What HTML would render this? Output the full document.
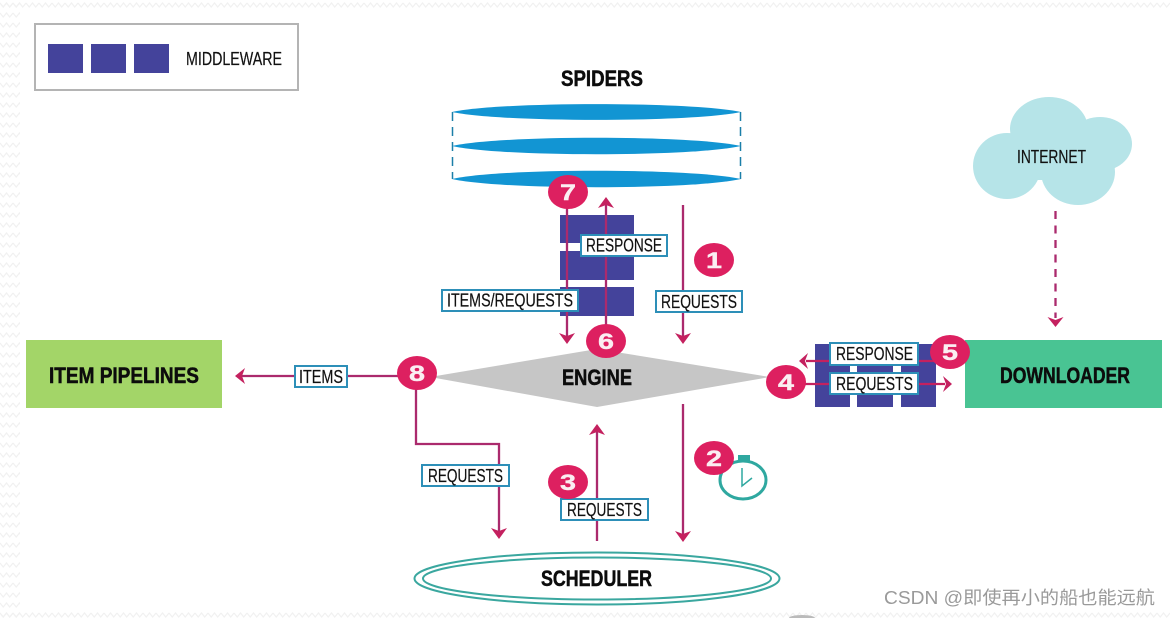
<!DOCTYPE html>
<html><head><meta charset="utf-8"><style>
html,body{margin:0;padding:0;background:#fff;width:1170px;height:618px;overflow:hidden}
svg{display:block}
text{font-family:"Liberation Sans","Noto Sans CJK SC",sans-serif}
.h{font-weight:bold;fill:#0c0c0c;stroke:#0c0c0c;stroke-width:.5}
.t{fill:#111;stroke:#111;stroke-width:.2;font-size:18px}
.n{font-weight:bold;fill:#fbeef2;stroke:#fbeef2;stroke-width:.4;font-size:22px;text-anchor:middle}
.l{fill:none;stroke:#ab2a6d;stroke-width:2.300}
.a{fill:#c4215f}
.b{fill:#fff;stroke:#2d8fb8;stroke-width:2}
.c{fill:#dd2060}
</style></head><body>
<svg width="1170" height="618" viewBox="0 0 1170 618" xmlns="http://www.w3.org/2000/svg">
<defs>
<pattern id="z" width="13" height="10" patternUnits="userSpaceOnUse"><path d="M0 3 L3.2 7 L6.5 3 L9.7 7 L13 3" fill="none" stroke="#f1f1f1" stroke-width="1.2"/></pattern>
</defs>
<rect width="1170" height="618" fill="#fff"/>
<rect x="0" y="0" width="1170" height="12" fill="url(#z)"/>
<rect x="0" y="0" width="20" height="618" fill="url(#z)"/>
<rect x="0" y="611" width="1170" height="7" fill="url(#z)"/>
<ellipse cx="802" cy="618" rx="13" ry="3" fill="#bbb"/>

<!-- legend -->
<rect x="35" y="24" width="263" height="66" fill="#fff" stroke="#b4b4b4" stroke-width="2"/>
<rect x="48" y="44" width="35" height="29" fill="#44439b"/>
<rect x="91" y="44" width="35" height="29" fill="#44439b"/>
<rect x="134" y="44" width="35" height="29" fill="#44439b"/>
<text class="t" x="186" y="65" textLength="96" lengthAdjust="spacingAndGlyphs">MIDDLEWARE</text>

<!-- spiders -->
<text class="h" x="561" y="86" font-size="22" textLength="82" lengthAdjust="spacingAndGlyphs">SPIDERS</text>
<path d="M452.500 112V179M740.500 112V179" stroke="#1b7fa8" stroke-width="1.500" stroke-dasharray="9 6" fill="none"/>
<path d="M452 112C500 101.500 692 101.500 741 112C692 122.500 500 122.500 452 112Z" fill="#1295d3"/>
<path d="M452 146C500 135 692 135 741 146C692 157 500 157 452 146Z" fill="#1295d3"/>
<path d="M452 179C500 168 692 168 741 179C692 190 500 190 452 179Z" fill="#1295d3"/>

<!-- spider middleware -->
<rect x="560" y="215" width="74" height="28" fill="#44439b"/>
<rect x="560" y="251" width="74" height="29" fill="#44439b"/>
<rect x="560" y="287" width="74" height="29" fill="#44439b"/>

<!-- engine -->
<polygon points="430,377 597,349 770,377 597,407" fill="#c6c6c6"/>
<text class="h" x="562" y="385" font-size="22" textLength="70" lengthAdjust="spacingAndGlyphs">ENGINE</text>

<!-- arrows upper -->
<path class="l" d="M567 192V338"/>
<path class="a" d="M559 333L567 336L575 333L567 344Z"/>
<path class="l" d="M606 341V205"/>
<path class="a" d="M598 208L606 205L614 208L606 197Z"/>
<path class="l" d="M683 205V338"/>
<path class="a" d="M675 333L683 336L691 333L683 344Z"/>

<rect class="b" x="581" y="235" width="86" height="21"/>
<text class="t" x="586" y="251.500" textLength="76" lengthAdjust="spacingAndGlyphs">RESPONSE</text>
<rect class="b" x="442" y="290" width="136" height="21"/>
<text class="t" x="447" y="306.500" textLength="126" lengthAdjust="spacingAndGlyphs">ITEMS/REQUESTS</text>
<rect class="b" x="656" y="291" width="86" height="21"/>
<text class="t" x="661" y="308" textLength="76" lengthAdjust="spacingAndGlyphs">REQUESTS</text>

<!-- item pipelines -->
<rect x="26" y="340" width="196" height="68" fill="#a3d568"/>
<text class="h" x="49" y="383" font-size="22" textLength="150" lengthAdjust="spacingAndGlyphs">ITEM PIPELINES</text>
<path class="l" d="M417 376H242"/>
<path class="a" d="M245 368L242 376L245 384L235 376Z"/>
<rect class="b" x="295" y="366" width="52" height="21"/>
<text class="t" x="299" y="383" textLength="44" lengthAdjust="spacingAndGlyphs">ITEMS</text>

<!-- lower arrows -->
<path class="l" d="M416 373V444H499V532"/>
<path class="a" d="M491 528L499 531L507 528L499 539Z"/>
<rect class="b" x="422" y="465" width="87" height="21"/>
<text class="t" x="428" y="482" textLength="75" lengthAdjust="spacingAndGlyphs">REQUESTS</text>
<path class="l" d="M597 541V432"/>
<path class="a" d="M589 435L597 432L605 435L597 424Z"/>
<rect class="b" x="561" y="499" width="87" height="21"/>
<text class="t" x="567" y="516" textLength="75" lengthAdjust="spacingAndGlyphs">REQUESTS</text>
<path class="l" d="M683 404V535"/>
<path class="a" d="M675 531L683 534L691 531L683 542Z"/>

<!-- timer -->
<rect x="738" y="455" width="12" height="6" fill="#2fa8a0"/>
<ellipse cx="743" cy="480" rx="23" ry="19" fill="#fff" stroke="#2fa8a0" stroke-width="3"/>
<path d="M742 468V486L752 478" fill="none" stroke="#2fa8a0" stroke-width="1.500"/>

<!-- scheduler -->
<ellipse cx="597" cy="578.500" rx="182.500" ry="26" fill="#fff" stroke="#3aa79f" stroke-width="2"/>
<ellipse cx="597" cy="578.500" rx="174" ry="21" fill="#fff" stroke="#3aa79f" stroke-width="2"/>
<text class="h" x="541" y="586" font-size="22" textLength="111" lengthAdjust="spacingAndGlyphs">SCHEDULER</text>

<!-- cloud -->
<g fill="#b6e4e8">
<ellipse cx="1007" cy="166" rx="34" ry="33"/>
<ellipse cx="1049" cy="129" rx="39" ry="32"/>
<ellipse cx="1100" cy="144" rx="32" ry="27"/>
<ellipse cx="1078" cy="172" rx="37" ry="33"/>
<rect x="1015" y="130" width="80" height="50"/>
</g>
<text class="t" x="1017" y="163" textLength="69" lengthAdjust="spacingAndGlyphs">INTERNET</text>
<path d="M1055.500 211V318" stroke="#ab2a6d" stroke-width="2.300" stroke-dasharray="8 6.500" fill="none"/>
<path class="a" d="M1047.500 317L1055.500 320L1063.500 317L1055.500 327Z"/>

<!-- downloader -->
<rect x="965" y="340" width="197" height="68" fill="#49c493"/>
<text class="h" x="1000" y="383" font-size="22" textLength="130" lengthAdjust="spacingAndGlyphs">DOWNLOADER</text>

<!-- downloader middleware -->
<rect x="815" y="344" width="121" height="63" fill="#44439b"/>
<rect x="850" y="365" width="7" height="7" fill="#fff"/>
<rect x="893" y="365" width="8" height="7" fill="#fff"/>
<rect x="850" y="395" width="7" height="12" fill="#fff"/>
<rect x="893" y="395" width="8" height="12" fill="#fff"/>
<path class="l" d="M950 361H806" style="stroke:#c4215f"/>
<path class="a" d="M808 353L805 361L808 369L799 361Z"/>
<path class="l" d="M786 384H945" style="stroke:#c4215f"/>
<path class="a" d="M943 376L946 384L943 392L952 384Z"/>
<rect class="b" x="830" y="343" width="88" height="22"/>
<text class="t" x="836" y="360" textLength="77" lengthAdjust="spacingAndGlyphs">RESPONSE</text>
<rect class="b" x="830" y="373" width="88" height="21"/>
<text class="t" x="836" y="390" textLength="77" lengthAdjust="spacingAndGlyphs">REQUESTS</text>

<!-- number badges -->
<ellipse class="c" cx="568" cy="192" rx="20" ry="17"/><text class="n" x="568" y="200" textLength="16" lengthAdjust="spacingAndGlyphs">7</text>
<ellipse class="c" cx="606" cy="341" rx="20" ry="17"/><text class="n" x="606" y="349" textLength="16" lengthAdjust="spacingAndGlyphs">6</text>
<ellipse class="c" cx="714" cy="260" rx="20" ry="17"/><text class="n" x="714" y="268" textLength="16" lengthAdjust="spacingAndGlyphs">1</text>
<ellipse class="c" cx="417" cy="373" rx="20" ry="17"/><text class="n" x="417" y="381" textLength="16" lengthAdjust="spacingAndGlyphs">8</text>
<ellipse class="c" cx="786" cy="382" rx="20" ry="17"/><text class="n" x="786" y="390" textLength="16" lengthAdjust="spacingAndGlyphs">4</text>
<ellipse class="c" cx="950" cy="352" rx="20" ry="17"/><text class="n" x="950" y="360" textLength="16" lengthAdjust="spacingAndGlyphs">5</text>
<ellipse class="c" cx="714" cy="458" rx="20" ry="17"/><text class="n" x="714" y="466" textLength="16" lengthAdjust="spacingAndGlyphs">2</text>
<ellipse class="c" cx="568" cy="482" rx="20" ry="17"/><text class="n" x="568" y="490" textLength="16" lengthAdjust="spacingAndGlyphs">3</text>

<!-- watermark -->
<text x="884" y="604" font-size="18" fill="#9a9a9a" textLength="271" lengthAdjust="spacingAndGlyphs">CSDN @即使再小的船也能远航</text>
</svg>
</body></html>
